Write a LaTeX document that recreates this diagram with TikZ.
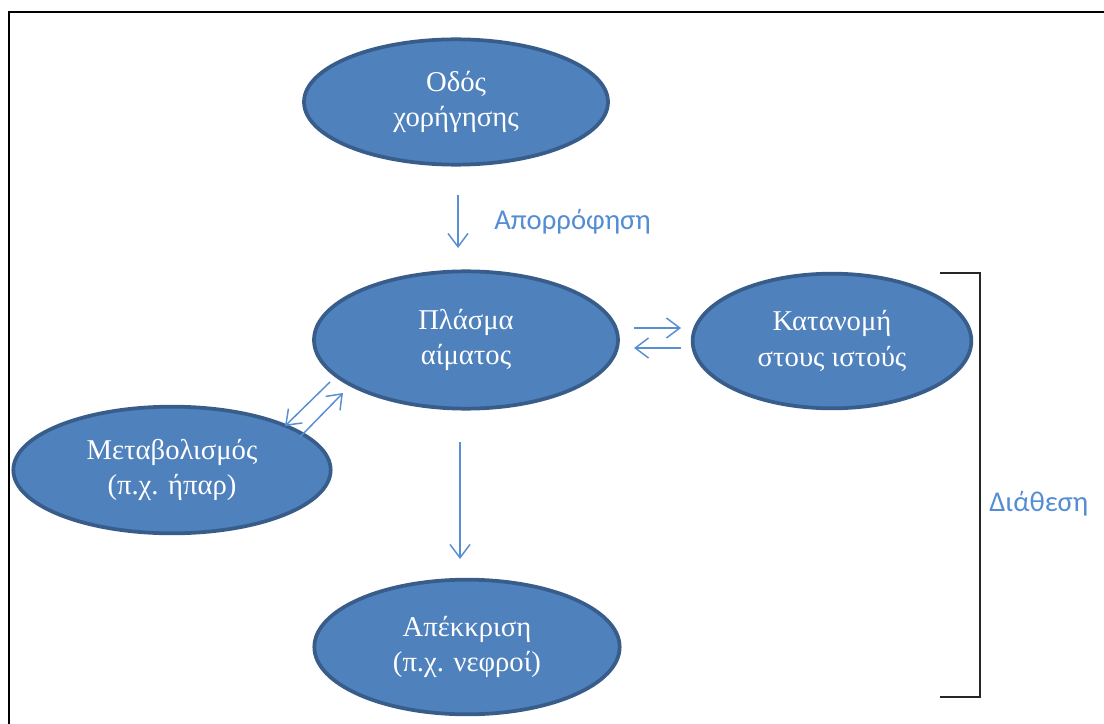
\documentclass[tikz,border=0pt]{standalone}
\usepackage{fontspec}
\setmainfont{Liberation Serif}
\newfontfamily\lblfont{Carlito}
\usetikzlibrary{shapes.geometric,arrows.meta}
\definecolor{fillb}{RGB}{79,129,189}
\definecolor{edgeb}{RGB}{56,93,138}
\definecolor{arrb}{RGB}{88,142,210}
\definecolor{lblb}{RGB}{84,141,212}
\begin{document}
\begin{tikzpicture}[x=0.75pt,y=-0.75pt,
  blob/.style={ellipse, fill=fillb, draw=edgeb, line width=2.8pt, text=white,
    align=center, inner sep=0pt, font=\fontsize{21.5}{26.5}\selectfont},
  flow/.style={draw=arrb, line width=1.1pt, -{Straight Barb[length=10pt,width=15pt,line width=1.1pt]}},
  lbl/.style={text=lblb, inner sep=0pt, anchor=west, font=\lblfont\fontsize{21.5}{24}\selectfont},
  frame/.style={draw=black, line width=1.6pt},
  brk/.style={draw=black!85, line width=1.1pt}]
\useasboundingbox (0,0) rectangle (1104,724);
% frame
\coordinate (f1) at (1104,12);
\coordinate (f2) at (9,12);
\coordinate (f3) at (9,724);
\draw[frame] (f1) -- (f2) -- (f3);
% ellipses
\node[blob, minimum width=228pt, minimum height=94pt] (road) at (456,102) {Οδός\\χορήγησης};
\node[blob, minimum width=228pt, minimum height=103pt] (plasma) at (466,340) {Πλάσμα\\αίματος};
\node[blob, minimum width=209pt, minimum height=101pt] (tissue) at (832,341) {Κατανομή\\στους ιστούς};
\node[blob, minimum width=238pt, minimum height=95pt] (metab) at (172,470) {Μεταβολισμός\\(π.χ. ήπαρ)};
\node[blob, minimum width=229pt, minimum height=101pt] (excr) at (467,647) {Απέκκριση\\(π.χ. νεφροί)};
% arrows
\coordinate (a1s) at (458,195);
\coordinate (a1e) at (458,248);
\draw[flow] (a1s) -- (a1e);
\node[lbl] (absl) at (494,222) {Απορρόφηση};
\coordinate (t1s) at (634,328);
\coordinate (t1e) at (681,328);
\coordinate (t2s) at (681,348);
\coordinate (t2e) at (634,348);
\draw[flow] (t1s) -- (t1e);
\draw[flow] (t2s) -- (t2e);
\coordinate (m1s) at (330,382);
\coordinate (m1e) at (285,426);
\coordinate (m2s) at (300,437);
\coordinate (m2e) at (343,393);
\draw[flow] (m1s) -- (m1e);
\draw[flow] (m2s) -- (m2e);
\coordinate (e1s) at (460,442);
\coordinate (e1e) at (460,559);
\draw[flow] (e1s) -- (e1e);
% bracket
\coordinate (b1) at (940,273);
\coordinate (b2) at (980,273);
\coordinate (b3) at (980,697);
\coordinate (b4) at (940,697);
\draw[brk] (b1) -- (b2) -- (b3) -- (b4);
\node[lbl] (disp) at (989,504) {Διάθεση};
\end{tikzpicture}
\end{document}
